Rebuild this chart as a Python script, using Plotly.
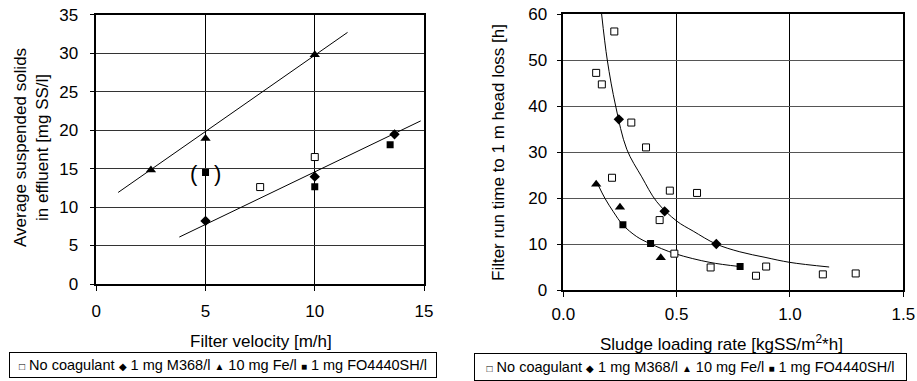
import plotly.graph_objects as go

FONT = "Arial, 'Liberation Sans', Helvetica, sans-serif"
W, H = 917, 381

# ---------------- Left chart data: filter velocity vs effluent SS ----------------
vel_none = [7.5, 10.0]
ss_none = [12.6, 16.5]
vel_m368 = [5.0, 10.0, 13.65]
ss_m368 = [8.2, 13.95, 19.45]
vel_fe = [2.5, 5.0, 10.0]
ss_fe = [14.8, 18.9, 29.8]
vel_fo = [5.0, 10.0, 13.45]
ss_fo = [14.5, 12.65, 18.1]
trend_fe_x = [1.0, 11.5]
trend_fe_y = [11.9, 32.7]
trend_m368_x = [3.8, 14.85]
trend_m368_y = [6.1, 21.2]
bracket_point = (5.0, 14.5)

# ---------------- Right chart data: sludge loading rate vs run time ----------------
slr_none = [0.225, 0.145, 0.17, 0.30, 0.365, 0.215, 0.47, 0.59, 0.425, 0.49, 0.65, 0.85, 0.895, 1.145, 1.29]
run_none = [56.2, 47.2, 44.7, 36.4, 31.0, 24.4, 21.6, 21.1, 15.2, 7.9, 4.9, 3.1, 5.1, 3.4, 3.6]
slr_m368 = [0.245, 0.447, 0.675]
run_m368 = [37.1, 17.1, 10.0]
slr_fe = [0.145, 0.25, 0.43]
run_fe = [23.0, 18.0, 7.0]
slr_fo = [0.263, 0.385, 0.78]
run_fo = [14.2, 10.1, 5.1]
curve_up_x = [0.169, 0.194, 0.231, 0.28, 0.346, 0.412, 0.5, 0.573, 0.674, 0.779, 0.89, 1.0, 1.173]
curve_up_y = [60.0, 50.0, 40.0, 30.6, 24.6, 19.2, 15.0, 12.8, 10.0, 8.3, 7.1, 6.0, 5.0]
curve_lo_x = [0.154, 0.184, 0.221, 0.262, 0.324, 0.382, 0.493, 0.647, 0.779]
curve_lo_y = [22.8, 19.9, 17.0, 14.2, 11.6, 10.1, 7.9, 6.0, 5.1]

legend_labels = ["No coagulant", "1 mg M368/l", "10 mg Fe/l", "1 mg FO4440SH/l"]
legend_symbols = ["\u25a1", "\u25c6", "\u25b2", "\u25a0"]

fig = go.Figure()

open_sq = dict(symbol="square", size=7, color="white", line=dict(color="black", width=1))
diamond = dict(symbol="diamond", size=8, color="black", line=dict(width=0))
triangle = dict(symbol="triangle-up", size=9, color="black", line=dict(width=0))
fill_sq = dict(symbol="square", size=7, color="black", line=dict(width=0))
line_style = dict(color="black", width=1)

# left traces
fig.add_trace(go.Scatter(x=trend_fe_x, y=trend_fe_y, mode="lines", line=line_style, xaxis="x", yaxis="y"))
fig.add_trace(go.Scatter(x=trend_m368_x, y=trend_m368_y, mode="lines", line=line_style, xaxis="x", yaxis="y"))
fig.add_trace(go.Scatter(x=vel_none, y=ss_none, mode="markers", marker=open_sq, name=legend_labels[0], xaxis="x", yaxis="y"))
fig.add_trace(go.Scatter(x=vel_m368, y=ss_m368, mode="markers", marker=diamond, name=legend_labels[1], xaxis="x", yaxis="y"))
fig.add_trace(go.Scatter(x=vel_fe, y=ss_fe, mode="markers", marker=triangle, name=legend_labels[2], xaxis="x", yaxis="y"))
fig.add_trace(go.Scatter(x=vel_fo, y=ss_fo, mode="markers", marker=fill_sq, name=legend_labels[3], xaxis="x", yaxis="y"))

# right traces
fig.add_trace(go.Scatter(x=curve_up_x, y=curve_up_y, mode="lines", line=dict(color="black", width=1, shape="spline"), xaxis="x2", yaxis="y2"))
fig.add_trace(go.Scatter(x=curve_lo_x, y=curve_lo_y, mode="lines", line=dict(color="black", width=1, shape="spline"), xaxis="x2", yaxis="y2"))
fig.add_trace(go.Scatter(x=slr_none, y=run_none, mode="markers", marker=open_sq, name=legend_labels[0], xaxis="x2", yaxis="y2"))
fig.add_trace(go.Scatter(x=slr_m368, y=run_m368, mode="markers", marker=diamond, name=legend_labels[1], xaxis="x2", yaxis="y2"))
fig.add_trace(go.Scatter(x=slr_fe, y=run_fe, mode="markers", marker=triangle, name=legend_labels[2], xaxis="x2", yaxis="y2"))
fig.add_trace(go.Scatter(x=slr_fo, y=run_fo, mode="markers", marker=fill_sq, name=legend_labels[3], xaxis="x2", yaxis="y2"))

tickfont = dict(family=FONT, size=17, color="black")
common = dict(showline=True, linecolor="black", linewidth=1.5, mirror=True,
              ticks="outside", ticklen=5, tickcolor="black", tickwidth=1,
              zeroline=False, tickfont=tickfont, automargin=False, fixedrange=True,
              ticklabeloverflow="allow")


def px_x(p):
    return p / W


def px_y(p):
    return 1 - p / H


fig.update_layout(
    width=W, height=H, template="none",
    margin=dict(l=0, r=0, t=0, b=0),
    paper_bgcolor="white", plot_bgcolor="white",
    showlegend=False,
    font=dict(family=FONT, size=17, color="black"),
    xaxis=dict(domain=[px_x(96.3), px_x(424)], range=[0, 15], tickvals=[0, 5, 10, 15],
               showgrid=True, gridcolor="black", gridwidth=1, anchor="y", ticklabelstandoff=6, **common),
    yaxis=dict(domain=[px_y(284), px_y(14.7)], range=[0, 35], tickvals=list(range(0, 36, 5)),
               showgrid=True, gridcolor="#333333", gridwidth=1, anchor="x", ticklabelstandoff=8, **common),
    xaxis2=dict(domain=[px_x(563.3), px_x(903.3)], range=[0, 1.5], tickvals=[0, 0.5, 1.0, 1.5], tickformat=".1f",
                showgrid=True, gridcolor="black", gridwidth=1, anchor="y2", ticklabelstandoff=3, **common),
    yaxis2=dict(domain=[px_y(290), px_y(14)], range=[0, 60], tickvals=list(range(0, 61, 10)),
                showgrid=True, gridcolor="#555555", gridwidth=1, anchor="x2", ticklabelstandoff=6, **common),
)

annots = []
ctr = dict(xref="paper", yref="paper", showarrow=False, xanchor="center", yanchor="middle")
# axis titles
annots.append(dict(text="Filter velocity [m/h]", x=px_x(260.5), y=px_y(341), font=dict(size=17), **ctr))
annots.append(dict(text="Average suspended solids<br>in effluent [mg SS/l]", x=px_x(31), y=px_y(148),
                   textangle=-90, font=dict(size=17), **ctr))
annots.append(dict(text="Sludge loading rate [kgSS/m<sup>2</sup>*h]", x=px_x(721.7), y=px_y(343),
                   font=dict(size=17), **ctr))
annots.append(dict(text="Filter run time to 1 m head loss [h]", x=px_x(499), y=px_y(153),
                   textangle=-90, font=dict(size=17), **ctr))

# brackets around questionable point
for txt, shift in (("(", -12), (")", 12)):
    annots.append(dict(text=txt, x=bracket_point[0], y=bracket_point[1], xref="x", yref="y",
                       xanchor="center", yanchor="middle",
                       showarrow=False, xshift=shift, yshift=-1, font=dict(size=22)))


# legends (boxed text rows)
def legend_text():
    parts = []
    for s, lab in zip(legend_symbols, legend_labels):
        parts.append("<span style='font-size:10px'>%s</span> %s" % (s, lab))
    return " ".join(parts)


annots.append(dict(text=legend_text(), x=px_x(223), y=px_y(365), font=dict(size=14.5), width=424, height=22,
                   bordercolor="black", borderwidth=1, borderpad=1, bgcolor="white", **ctr))
annots.append(dict(text=legend_text(), x=px_x(690.5), y=px_y(366.5), font=dict(size=14.5), width=429, height=24,
                   bordercolor="black", borderwidth=1, borderpad=1, bgcolor="white", **ctr))

fig.update_layout(annotations=annots)
fig.write_html("out.html", config={"displayModeBar": False},
               post_script="document.body.style.margin='0';")
